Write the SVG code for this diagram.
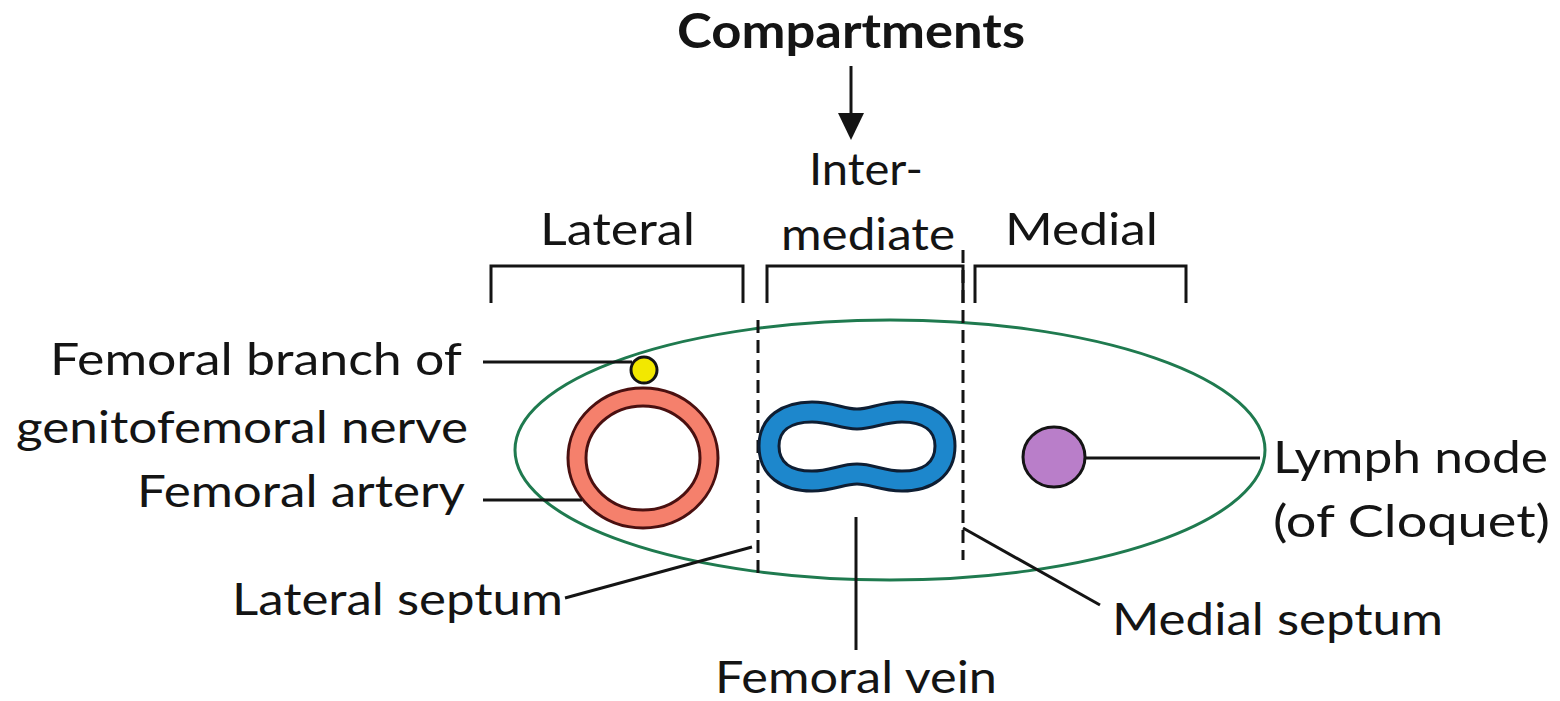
<svg xmlns="http://www.w3.org/2000/svg" width="1560" height="701" viewBox="0 0 1560 701">
<style>
text{font-family:"Lato","Liberation Sans",sans-serif;font-size:45px;fill:#141414}
.b{font-weight:bold;font-size:48px}
.ln{stroke:#141414;stroke-width:3;fill:none}
.dash{stroke:#141414;stroke-width:3;stroke-dasharray:13 7;fill:none}
</style>
<defs>
<path id="veinpath" d="M769 446 C769 424,786 412,812 412 C832 412,842 419,857 419 C872 419,882 412,902 412 C928 412,945 424,945 446 C945 469,928 481,902 481 C882 481,872 474,857 474 C842 474,832 481,812 481 C786 481,769 469,769 446 Z"/>
</defs>
<rect width="1560" height="701" fill="#fff"/>
<g id="title">
<text class="b" x="677" y="48" textLength="348" lengthAdjust="spacingAndGlyphs">Compartments</text>
</g>
<g id="brackets">
<path class="ln" d="M491,303 V266 H743 V303"/>
<path class="ln" d="M767,303 V266 H963 V303"/>
<path class="ln" d="M975,303 V266 H1186 V303"/>
<text x="540" y="245" textLength="155" lengthAdjust="spacingAndGlyphs">Lateral</text>
<text x="809" y="185" textLength="114" lengthAdjust="spacingAndGlyphs">Inter-</text>
<text x="781" y="250" textLength="174" lengthAdjust="spacingAndGlyphs">mediate</text>
<text x="1005" y="245" textLength="153" lengthAdjust="spacingAndGlyphs">Medial</text>
</g>
<g id="sheath">
<ellipse cx="890" cy="450" rx="375" ry="130" fill="none" stroke="#1f7a4f" stroke-width="3"/>
</g>
<g id="lateral-septum"><line class="dash" x1="758" y1="320" x2="758" y2="578"/></g>
<g id="medial-septum"><line class="dash" x1="963" y1="250" x2="963" y2="560"/></g>
<g id="nerve"><circle cx="644" cy="370" r="13" fill="#f2e800" stroke="#141414" stroke-width="3"/></g>
<g id="artery">
<ellipse cx="643" cy="458" rx="66" ry="61" fill="none" stroke="#4a1010" stroke-width="21"/>
<ellipse cx="643" cy="458" rx="66" ry="61" fill="none" stroke="#f5806c" stroke-width="15"/>
</g>
<g id="vein">
<use href="#veinpath" fill="none" stroke="#0e1e33" stroke-width="23"/>
<use href="#veinpath" fill="none" stroke="#1d87cc" stroke-width="17"/>
</g>
<g id="lymph-node"><ellipse cx="1054" cy="457" rx="31" ry="30" fill="#b97ec9" stroke="#141414" stroke-width="3"/></g>
<g id="connectors">
<line class="ln" x1="851" y1="66" x2="851" y2="116"/>
<path d="M838,113 L864,113 L851,140 Z" fill="#141414"/>
<line class="ln" x1="483" y1="362" x2="632" y2="362"/>
<line class="ln" x1="483" y1="500" x2="582" y2="500"/>
<line class="ln" x1="565" y1="598" x2="752" y2="547"/>
<line class="ln" x1="963" y1="528" x2="1100" y2="605"/>
<line class="ln" x1="856" y1="517" x2="856" y2="650"/>
<line class="ln" x1="1085" y1="458" x2="1260" y2="458"/>
</g>
<g id="labels">
<text x="50" y="375" textLength="412" lengthAdjust="spacingAndGlyphs">Femoral branch of</text>
<text x="16" y="443" textLength="452" lengthAdjust="spacingAndGlyphs">genitofemoral nerve</text>
<text x="137" y="507" textLength="328" lengthAdjust="spacingAndGlyphs">Femoral artery</text>
<text x="232" y="615" textLength="331" lengthAdjust="spacingAndGlyphs">Lateral septum</text>
<text x="1112" y="635" textLength="331" lengthAdjust="spacingAndGlyphs">Medial septum</text>
<text x="715" y="693" textLength="282" lengthAdjust="spacingAndGlyphs">Femoral vein</text>
<text x="1273" y="473" textLength="275" lengthAdjust="spacingAndGlyphs">Lymph node</text>
<text x="1273" y="537" textLength="277" lengthAdjust="spacingAndGlyphs">(of Cloquet)</text>
</g>
</svg>
